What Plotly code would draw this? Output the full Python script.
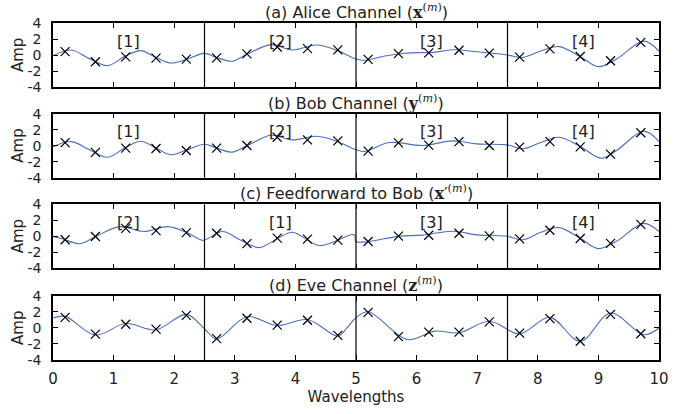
import plotly.graph_objects as go

# ---------------- data ----------------
marker_x = [0.2, 0.7, 1.2, 1.7, 2.2, 2.7, 3.2, 3.7, 4.2, 4.7,
            5.2, 5.7, 6.2, 6.7, 7.2, 7.7, 8.2, 8.7, 9.2, 9.7]

alice_marks = [0.43, -0.84, -0.23, -0.39, -0.51, -0.35, 0.14, 1.0, 0.8, 0.64,
               -0.55, 0.18, 0.27, 0.6, 0.23, -0.27, 0.76, -0.18, -0.72, 1.58]
bob_marks = [0.39, -0.84, -0.31, -0.35, -0.6, -0.31, 0.02, 1.05, 0.72, 0.6,
             -0.68, 0.35, 0.06, 0.51, 0.02, -0.18, 0.51, -0.14, -1.05, 1.62]
ff_marks = [-0.43, -0.02, 1.0, 0.72, 0.47, 0.39, -0.92, -0.23, -0.35, -0.47,
            -0.64, 0.02, 0.14, 0.39, 0.06, -0.31, 0.76, -0.27, -0.88, 1.5]
eve_marks = [1.33, -0.76, 0.47, -0.14, 1.58, -1.33, 1.21, 0.35, 0.96, -0.92,
             1.95, -1.09, -0.51, -0.51, 0.76, -0.64, 1.17, -1.66, 1.7, -0.72]

alice_curve_x = [0, 0.3, 0.6, 0.9, 1.2, 1.45, 1.7, 1.95, 2.2, 2.5, 2.7, 2.95, 3.2, 3.6,
                 3.95, 4.35, 4.7, 5.0, 5.15, 5.5, 5.8, 6.05, 6.25, 6.6, 7.0, 7.5, 7.75,
                 8.05, 8.35, 8.7, 9.0, 9.3, 9.75, 10]
alice_curve_y = [-0.1, 0.62, -0.45, -1.33, -0.1, 0.55, -0.3, -1.0, -0.55, 0.2, -0.3, -0.78,
                 0.1, 1.3, 0.63, 1.25, 0.55, -0.5, -0.65, -0.1, 0.22, 0.3, 0.3, 0.65, 0.4,
                 0.0, -0.3, 0.5, 1.05, -0.2, -1.45, -0.5, 1.74, 0.5]

bob_curve_x = [0, 0.3, 0.6, 0.9, 1.2, 1.45, 1.7, 1.95, 2.2, 2.5, 2.7, 2.95, 3.2, 3.6,
               3.95, 4.35, 4.7, 5.0, 5.15, 5.55, 6.1, 6.6, 7.0, 7.5, 7.75, 8.05, 8.35,
               8.7, 9.05, 9.3, 9.75, 10]
bob_curve_y = [-0.14, 0.51, -0.5, -1.45, -0.2, 0.55, -0.3, -1.13, -0.55, 0.18, -0.3, -0.8,
               0.0, 1.3, 0.72, 1.17, 0.5, -0.5, -0.72, 0.39, 0.02, 0.6, 0.22, 0.1, -0.39,
               0.4, 1.05, -0.1, -1.58, -0.6, 1.82, 0.51]

ff_curve_x = [0, 0.15, 0.45, 0.7, 1.1, 1.5, 1.9, 2.2, 2.47, 2.55, 2.8, 3.1, 3.4, 3.7,
              3.95, 4.4, 4.97, 5.0, 5.2, 5.7, 6.1, 6.6, 7.0, 7.5, 7.75, 8.05, 8.35,
              8.7, 9.0, 9.3, 9.75, 10]
ff_curve_y = [0.0, -0.3, -0.92, -0.05, 1.21, 0.6, 1.21, 0.5, -0.5, -0.3, 0.6, -0.5,
              -1.41, -0.3, 0.51, -1.15, 0.2, -0.64, -0.64, 0.0, 0.15, 0.64, 0.18, 0.0,
              -0.43, 0.5, 1.09, -0.25, -1.54, -0.6, 1.62, 0.6]

eve_curve_x = [0, 0.2, 0.7, 1.2, 1.7, 2.2, 2.5, 2.7, 3.2, 3.7, 4.2, 4.7, 4.85, 5.0,
               5.2, 5.85, 6.3, 6.7, 7.2, 7.7, 8.2, 8.7, 9.2, 9.75, 10]
eve_curve_y = [1.25, 1.45, -0.88, 0.55, -0.23, 1.7, -0.1, -1.37, 1.41, 0.31, 1.05, -1.0,
               0.0, 1.3, 2.03, -1.45, -0.39, -0.6, 0.84, -0.72, 1.33, -1.66, 1.86, -0.84, 0.0]

SERIF = "font-family:'DejaVu Serif'"
titles = [
    f"(a) Alice Channel (<span style=\"{SERIF}\"><b>x</b><sup>(<i>m</i>)</sup></span>)",
    f"(b) Bob Channel (<span style=\"{SERIF}\"><b>y</b><sup>(<i>m</i>)</sup></span>)",
    f"(c) Feedforward to Bob (<span style=\"{SERIF}\"><b>x</b>′<sup>(<i>m</i>)</sup></span>)",
    f"(d) Eve Channel (<span style=\"{SERIF}\"><b>z</b><sup>(<i>m</i>)</sup></span>)",
]
y_title = "Amp"
x_title = "Wavelengths"
block_labels = [["[1]", "[2]", "[3]", "[4]"],
                ["[1]", "[2]", "[3]", "[4]"],
                ["[2]", "[1]", "[3]", "[4]"],
                [None, None, None, None]]
block_label_x = [1.25, 3.75, 6.25, 8.75]
block_label_y = 1.75
boundaries = [2.5, 5.0, 7.5]

y_tickvals = [-4, -2, 0, 2, 4]
y_ticktext = ["-4", "-2", "0", "2", "4"]
x_tickvals = list(range(0, 11))

curves = [(alice_curve_x, alice_curve_y), (bob_curve_x, bob_curve_y),
          (ff_curve_x, ff_curve_y), (eve_curve_x, eve_curve_y)]
marks = [alice_marks, bob_marks, ff_marks, eve_marks]

# ---------------- figure ----------------
W, H = 689, 414
ml, mr, mt, mb = 53, 30, 23, 49
ph = H - mt - mb
pw = W - ml - mr
panel_px = [(23, 88), (115, 180), (207, 272), (300, 365)]
domains = [[(H - mb - b) / ph, (H - mb - t) / ph] for t, b in panel_px]

FONT = "DejaVu Sans"
TXT = "#222"
fig = go.Figure()
annotations = []
shapes = []
for i in range(4):
    xa = "x" if i == 0 else f"x{i+1}"
    ya = "y" if i == 0 else f"y{i+1}"
    cx, cy = curves[i]
    fig.add_trace(go.Scatter(x=cx, y=cy, mode="lines", xaxis=xa, yaxis=ya,
                             line=dict(color="#4a6fbf", width=1.1, shape="spline", smoothing=1.0),
                             hoverinfo="skip", showlegend=False))
    fig.add_trace(go.Scatter(x=marker_x, y=marks[i], mode="markers", xaxis=xa, yaxis=ya,
                             marker=dict(symbol="x-thin", size=9, color="black",
                                         line=dict(color="black", width=1.2)),
                             showlegend=False))
    for b in boundaries:
        shapes.append(dict(type="line", xref=xa, yref=f"{ya} domain", x0=b, x1=b, y0=0, y1=1,
                           line=dict(color="black", width=1.2)))
    for lx, lt in zip(block_label_x, block_labels[i]):
        if lt:
            annotations.append(dict(x=lx, y=block_label_y, xref=xa, yref=ya, text=lt,
                                    showarrow=False, font=dict(size=16, color=TXT, family=FONT)))
    annotations.append(dict(x=0.5, y=domains[i][1], xref="paper", yref="paper", text=titles[i],
                            showarrow=False, yanchor="bottom", yshift=-1,
                            font=dict(size=16, color=TXT, family=FONT)))
    # y-axis title placed at its pixel column, centred on the panel
    annotations.append(dict(x=-(ml - 18) / pw, y=sum(domains[i]) / 2, xref="paper", yref="paper",
                            text=y_title, textangle=-90, showarrow=False,
                            xanchor="center", yanchor="middle",
                            font=dict(size=15, color=TXT, family=FONT)))
    axkey = "xaxis" if i == 0 else f"xaxis{i+1}"
    aykey = "yaxis" if i == 0 else f"yaxis{i+1}"
    xdict = dict(domain=[0, 1], range=[0, 10], anchor=ya,
                 tickvals=x_tickvals, ticks="inside", ticklen=5,
                 tickcolor="black", showline=True, linecolor="black", linewidth=1.5,
                 mirror="ticks", showgrid=False, zeroline=False,
                 showticklabels=(i == 3), ticklabelstandoff=4,
                 tickfont=dict(size=15, color=TXT, family=FONT))
    if i == 3:
        xdict["title"] = dict(text=x_title, standoff=4, font=dict(size=15, color=TXT, family=FONT))
    fig.layout[axkey] = xdict
    fig.layout[aykey] = dict(domain=domains[i], range=[-4, 4], anchor=xa,
                             tickvals=y_tickvals, ticktext=y_ticktext, ticks="inside", ticklen=5,
                             tickcolor="black", showline=True, linecolor="black", linewidth=1.5,
                             mirror="ticks", showgrid=False, zeroline=False,
                             ticklabelstandoff=7,
                             tickfont=dict(size=14, color=TXT, family=FONT))

fig.update_layout(width=W, height=H, margin=dict(l=ml, r=mr, t=mt, b=mb),
                  plot_bgcolor="white", paper_bgcolor="white",
                  annotations=annotations, shapes=shapes, showlegend=False)

fig.write_html("out.html")
